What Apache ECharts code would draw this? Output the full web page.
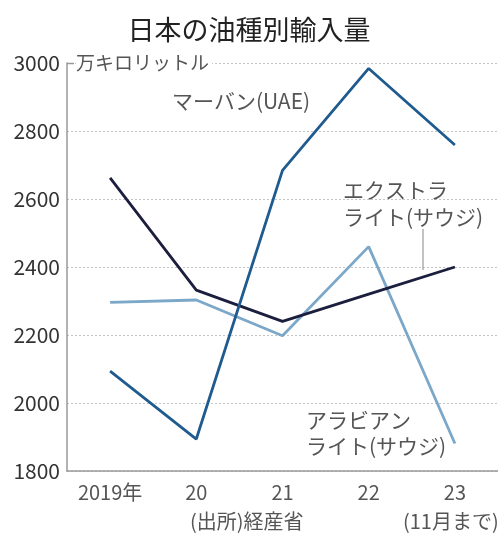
<!DOCTYPE html>
<html><head><meta charset="utf-8">
<script src="https://cdn.jsdelivr.net/npm/echarts@6/dist/echarts.min.js"></script>
<style>html,body{margin:0;padding:0;background:#fff}#c{width:498px;height:533px}</style>
</head><body><div id="c"></div>
<script>
const categories = ['2019年', '20', '21', '22', '23'];
const extraLight = [2662, 2332, 2240, 2320, 2400];
const murban = [2094, 1894, 2684, 2984, 2759];
const arabianLight = [2296, 2303, 2198, 2460, 1881];
const yTicks = { min: 1800, max: 3000, interval: 200 };

const FONT = '"Noto Sans CJK JP", sans-serif';
const chart = echarts.init(document.getElementById('c'), null, { renderer: 'canvas' });
chart.setOption({
  backgroundColor: '#fff',
  animation: false,
  title: {
    text: '日本の油種別輸入量', left: 'center', top: 7,
    textStyle: { fontFamily: FONT, fontSize: 27, fontWeight: 'normal', color: '#222', lineHeight: 35 }
  },
  grid: { left: 67, top: 63, width: 434, height: 408, containLabel: false },
  xAxis: {
    type: 'category', data: categories, boundaryGap: true,
    axisLine: { lineStyle: { color: '#999', width: 1.5 } },
    axisTick: { inside: true, length: 7, alignWithLabel: true, lineStyle: { color: '#999' } },
    axisLabel: { fontFamily: FONT, fontSize: 20, color: '#555', margin: 11 }
  },
  yAxis: {
    type: 'value', min: yTicks.min, max: yTicks.max, interval: yTicks.interval,
    axisLine: { show: true, lineStyle: { color: '#999', width: 1.5 } },
    axisTick: { show: false },
    axisLabel: { fontFamily: FONT, fontSize: 21, color: '#333', margin: 7, formatter: v => String(v) },
    splitLine: { lineStyle: { color: '#c4c4c4', type: [2, 2], width: 1 } }
  },
  series: [
    { name: 'エクストラライト', type: 'line', data: extraLight, symbol: 'none',
      lineStyle: { color: '#1b1e3d', width: 2.8 }, z: 3 },
    { name: 'アラビアンライト', type: 'line', data: arabianLight, symbol: 'none',
      lineStyle: { color: '#7ba7c8', width: 2.8 }, z: 2 },
    { name: 'マーバン', type: 'line', data: murban, symbol: 'none',
      lineStyle: { color: '#1f5b8f', width: 2.8 }, z: 4 }
  ],
  graphic: [
    { type: 'line', shape: { x1: 67, y1: 63.5, x2: 74, y2: 63.5 }, style: { stroke: '#999', lineWidth: 1.5 }, z: 10 },
    { type: 'text', left: 76, top: 51, z: 10,
      style: { text: '万キロリットル', fontFamily: FONT, fontSize: 19, lineHeight: 24, fill: '#555', backgroundColor: '#fff', padding: [0, 3, 0, 0] } },
    { type: 'text', left: 172, top: 88, z: 10,
      style: { text: 'マーバン(UAE)', fontFamily: FONT, fontSize: 21, lineHeight: 26, fill: '#555' } },
    { type: 'text', left: 343, top: 177, z: 10,
      style: { text: 'エクストラ\nライト(サウジ)', fontFamily: FONT, fontSize: 21, lineHeight: 27, fill: '#555' } },
    { type: 'line', shape: { x1: 423, y1: 229, x2: 423, y2: 270 }, style: { stroke: '#999', lineWidth: 1.2 }, z: 10 },
    { type: 'text', left: 306, top: 407, z: 10,
      style: { text: 'アラビアン\nライト(サウジ)', fontFamily: FONT, fontSize: 21, lineHeight: 26, fill: '#555' } },
    { type: 'text', left: 190, top: 509, z: 10,
      style: { text: '(出所)経産省', fontFamily: FONT, fontSize: 20, lineHeight: 24, fill: '#555' } },
    { type: 'text', left: 403, top: 509, z: 10,
      style: { text: '(11月まで)', fontFamily: FONT, fontSize: 20, lineHeight: 24, fill: '#555' } }
  ]
});
</script></body></html>
